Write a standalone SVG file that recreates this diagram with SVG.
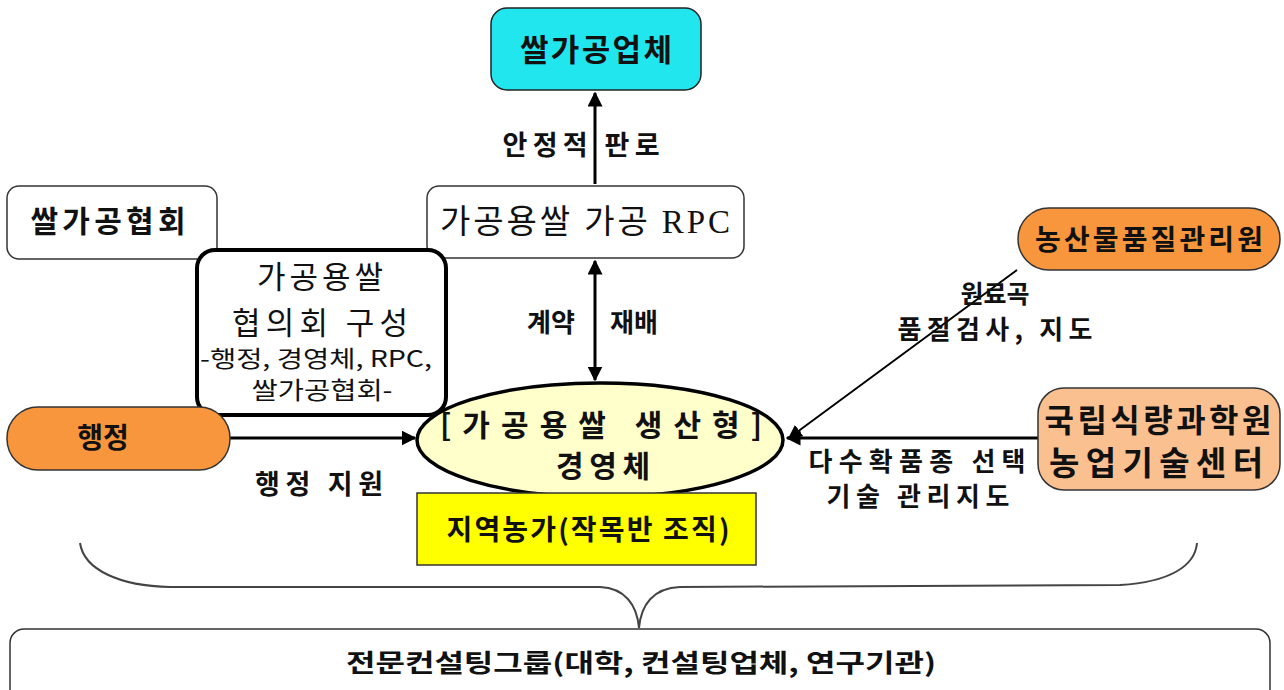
<svg xmlns="http://www.w3.org/2000/svg" width="1284" height="690" viewBox="0 0 1284 690">
<defs>
<style>
.box{fill:#fff;stroke:#333;stroke-width:1.5}
.t{font-family:"Noto Sans CJK KR","Noto Sans",sans-serif;fill:#111;text-anchor:middle}
.b{font-weight:bold}
.sr{font-family:"Liberation Serif","Noto Sans CJK KR",serif}
.ln{stroke:#000;stroke-width:3;fill:none}
.thin{stroke:#000;stroke-width:2;fill:none}
</style>
<marker id="ah" viewBox="0 0 10 10" refX="9" refY="5" markerWidth="5" markerHeight="5" orient="auto-start-reverse" markerUnits="strokeWidth">
<path d="M0,0 L10,5 L0,10 z" fill="#000"/>
</marker>
<marker id="ah2" viewBox="0 0 10 10" refX="9" refY="5" markerWidth="7" markerHeight="7" orient="auto" markerUnits="strokeWidth">
<path d="M0,0 L10,5 L0,10 z" fill="#000"/>
</marker>
</defs>

<g id="connectors">
<line class="ln" x1="595" y1="184" x2="595" y2="93" marker-end="url(#ah)"/>
<line class="ln" x1="595" y1="261" x2="595" y2="380" marker-start="url(#ah)" marker-end="url(#ah)"/>
<line class="ln" x1="230" y1="438" x2="415" y2="438" marker-end="url(#ah)"/>
<line class="thin" x1="1017" y1="270" x2="789" y2="438" marker-end="url(#ah2)"/>
<line class="ln" x1="1038" y1="438" x2="787" y2="438" marker-end="url(#ah)"/>
<path d="M80,543 C84,570 120,586 170,587 L600,587 C625,588 637,605 639,628 C641,605 653,588 680,587 L1120,585 C1170,582 1195,566 1197,543" fill="none" stroke="#444" stroke-width="2"/>
</g>

<g id="label-panro"><text class="t b" x="581" y="155" font-size="27" textLength="157" lengthAdjust="spacing">안정적 판로</text></g>
<g id="label-gyeyak"><text class="t b" x="551" y="332" font-size="26">계약</text><text class="t b" x="634" y="332" font-size="26">재배</text></g>
<g id="label-haengjeong"><text class="t b" x="319" y="494" font-size="27" textLength="128" lengthAdjust="spacing">행정 지원</text></g>
<g id="label-wonryo"><text class="t b" x="995" y="303" font-size="25">원료곡</text><text class="t b" x="995" y="339" font-size="26" textLength="195" lengthAdjust="spacing">품질검사, 지도</text></g>
<g id="label-dasu"><text class="t b" x="917" y="471" font-size="26" textLength="217" lengthAdjust="spacing">다수확품종 선택</text><text class="t b" x="918" y="506" font-size="26" textLength="183" lengthAdjust="spacing">기술 관리지도</text></g>

<g id="ssalgagong-eobche">
<rect x="491" y="8" width="210" height="82" rx="16" fill="#22E6EE" stroke="#222" stroke-width="1.5"/>
<text class="t b" x="596" y="61" font-size="31" textLength="152" lengthAdjust="spacing">쌀가공업체</text>
</g>

<g id="ssal-hyeophoe">
<rect class="box" x="7" y="186" width="210" height="73" rx="12"/>
<text class="t b" x="108" y="232" font-size="30" textLength="155" lengthAdjust="spacing">쌀가공협회</text>
</g>

<g id="rpc">
<rect class="box" x="427" y="186" width="317" height="72" rx="12"/>
<text class="t sr" x="585" y="233" font-size="33" textLength="290" lengthAdjust="spacing">가공용쌀 가공 RPC</text>
</g>

<g id="hyeobuihoe">
<rect x="197" y="250" width="249" height="165" rx="18" fill="#fff" stroke="#000" stroke-width="4"/>
<text class="t" x="320" y="288" font-size="31" textLength="126" lengthAdjust="spacing">가공용쌀</text>
<text class="t" x="320" y="334" font-size="31" textLength="176" lengthAdjust="spacing">협의회 구성</text>
<text class="t" x="316" y="367" font-size="23" textLength="232" lengthAdjust="spacingAndGlyphs">-행정, 경영체, RPC,</text>
<text class="t" x="322" y="399" font-size="24" textLength="141" lengthAdjust="spacingAndGlyphs">쌀가공협회-</text>
</g>

<g id="haengjeong">
<rect x="7" y="407" width="223" height="63" rx="31" fill="#F7963C" stroke="#333" stroke-width="1.5"/>
<text class="t b" x="103" y="448" font-size="28">행정</text>
</g>

<g id="gyeongyeongche">
<ellipse cx="600" cy="440" rx="183" ry="57" fill="#FFFFCC" stroke="#000" stroke-width="3.5"/>
<text class="t b" x="601" y="436" font-size="30" textLength="322" lengthAdjust="spacing">[가공용쌀 생산형]</text>
<text class="t b" x="603" y="477" font-size="30" textLength="94" lengthAdjust="spacing">경영체</text>
</g>

<g id="jiyeok-nongga">
<rect x="417" y="493" width="339" height="72" fill="#FFFF00" stroke="#333" stroke-width="1.5"/>
<text class="t b" x="588" y="540" font-size="28" textLength="283" lengthAdjust="spacing">지역농가(작목반 조직)</text>
</g>

<g id="nongsanmul">
<rect x="1018" y="208" width="262" height="62" rx="31" fill="#F7963C" stroke="#333" stroke-width="1.5"/>
<text class="t b" x="1149" y="250" font-size="28" textLength="228" lengthAdjust="spacing">농산물품질관리원</text>
</g>

<g id="gungnip">
<rect x="1038" y="388" width="242" height="102" rx="26" fill="#FAC090" stroke="#333" stroke-width="1.5"/>
<text class="t b" x="1158" y="432" font-size="32" textLength="227" lengthAdjust="spacing">국립식량과학원</text>
<text class="t b" x="1156" y="475" font-size="33" textLength="214" lengthAdjust="spacing">농업기술센터</text>
</g>

<g id="consulting">
<rect class="box" x="10" y="629" width="1260" height="80" rx="14"/>
<text class="t b" x="641" y="672" font-size="25" textLength="590" lengthAdjust="spacingAndGlyphs">전문컨설팅그룹(대학, 컨설팅업체, 연구기관)</text>
</g>
</svg>
